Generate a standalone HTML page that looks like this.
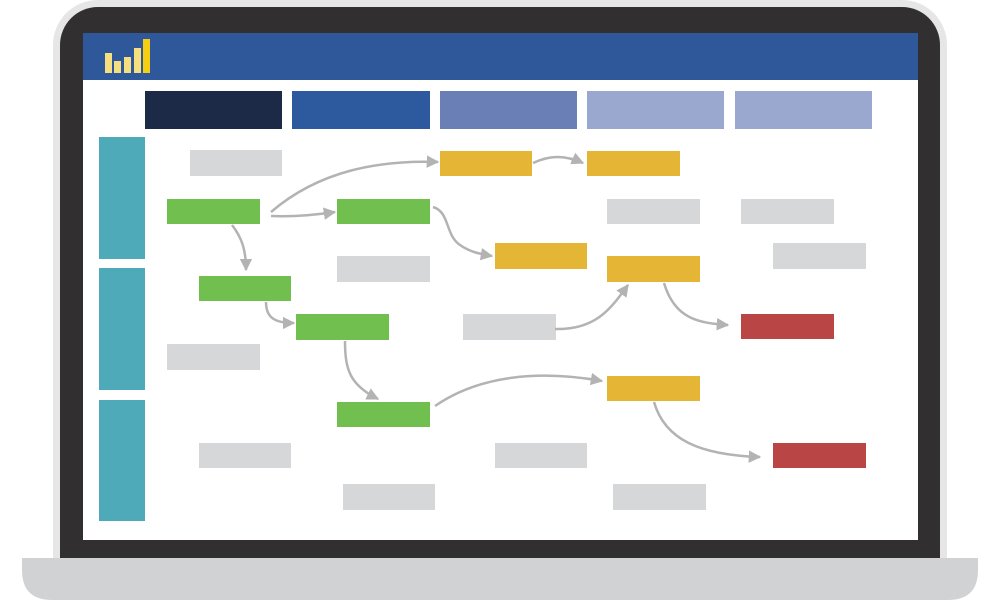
<!DOCTYPE html>
<html><head><meta charset="utf-8"><style>html,body{margin:0;padding:0;background:#fff}svg{display:block}</style></head><body>
<svg width="1000" height="600" viewBox="0 0 1000 600" xmlns="http://www.w3.org/2000/svg">
<defs><marker id="a" viewBox="0 0 10 10" refX="9" refY="5" markerWidth="5" markerHeight="5" orient="auto" markerUnits="strokeWidth"><path d="M0,0 L10,5 L0,10 z" fill="#b3b3b3"/></marker></defs>
<rect x="53" y="0" width="894" height="600" rx="45" fill="#e6e6e6"/>
<rect x="60" y="7" width="880" height="593" rx="38" fill="#312f30"/>
<rect x="60" y="500" width="880" height="60" fill="#312f30"/>
<rect x="83" y="33" width="835" height="507" fill="#fff"/>
<rect x="83" y="33" width="835" height="47" fill="#2f589a"/>
<path d="M22,558 H978 V570 Q978,600 948,600 H52 Q22,600 22,570 Z" fill="#d1d2d4"/>
<g fill="#f6df7f"><rect x="105" y="53" width="7" height="20"/><rect x="114" y="61" width="7" height="12"/><rect x="124" y="57" width="7" height="16"/><rect x="134" y="48" width="7" height="25"/></g>
<rect x="143" y="39" width="7" height="34" fill="#f5cd12"/>
<rect x="145" y="91" width="137" height="38" fill="#1c2a48"/>
<rect x="292" y="91" width="138" height="38" fill="#2d5a9e"/>
<rect x="440" y="91" width="137" height="38" fill="#6a7fb5"/>
<rect x="587" y="91" width="137" height="38" fill="#9aa8d0"/>
<rect x="735" y="91" width="137" height="38" fill="#9aa8d0"/>
<g fill="#4eaab8"><rect x="99" y="137" width="46" height="122"/><rect x="99" y="268" width="46" height="122"/><rect x="99" y="400" width="46" height="121"/></g>
<g fill="#d6d7d9">
<rect x="190" y="150" width="92" height="26"/><rect x="607" y="199" width="93" height="25"/><rect x="741" y="199" width="93" height="25"/><rect x="773" y="243" width="93" height="26"/><rect x="337" y="256" width="93" height="26"/><rect x="463" y="314" width="93" height="26"/><rect x="167" y="344" width="93" height="26"/><rect x="199" y="443" width="92" height="25"/><rect x="495" y="443" width="92" height="25"/><rect x="343" y="484" width="92" height="26"/><rect x="613" y="484" width="93" height="26"/>
</g>
<g fill="#70bf4f"><rect x="167" y="199" width="93" height="25"/><rect x="337" y="199" width="93" height="25"/><rect x="199" y="276" width="92" height="25"/><rect x="296" y="314" width="93" height="26"/><rect x="337" y="402" width="93" height="25"/></g>
<g fill="#e5b536"><rect x="440" y="151" width="92" height="25"/><rect x="587" y="151" width="93" height="25"/><rect x="495" y="243" width="92" height="26"/><rect x="607" y="256" width="93" height="26"/><rect x="607" y="376" width="93" height="25"/></g>
<g fill="#b94545"><rect x="741" y="314" width="93" height="25"/><rect x="773" y="443" width="93" height="25"/></g>
<g fill="none" stroke="#b3b3b3" stroke-width="2.5" marker-end="url(#a)">
<path d="M271,212 C320,170 380,160 438,162"/>
<path d="M271,216 C295,217 315,215 335,212"/>
<path d="M232,225 C242,238 246,250 246,270"/>
<path d="M533,163 C550,155 565,155 583,163"/>
<path d="M433,207 C450,212 445,235 460,245 C470,252 480,254 492,256"/>
<path d="M266,302 C266,318 275,323 294,323"/>
<path d="M555,329 C595,330 610,310 628,285"/>
<path d="M664,283 C675,320 700,323 728,325"/>
<path d="M345,341 C345,370 350,385 378,399"/>
<path d="M435,406 C480,375 540,370 602,381"/>
<path d="M654,402 C665,440 700,455 760,457"/>
</g>
</svg>
</body></html>
